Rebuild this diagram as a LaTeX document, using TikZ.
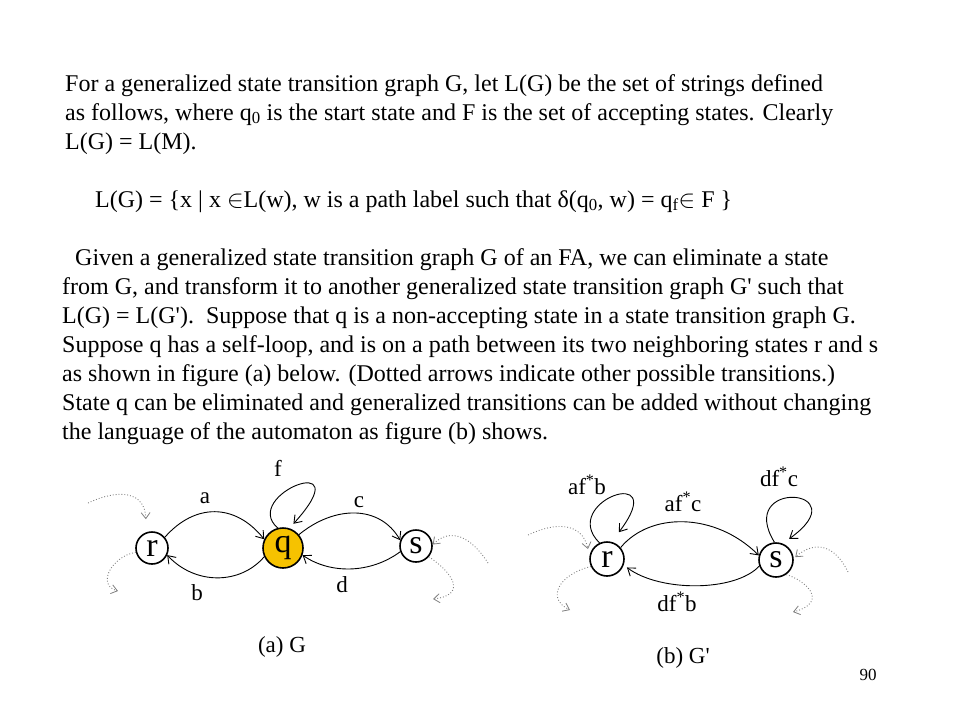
\documentclass[tikz,border=0pt]{standalone}
\usepackage{fontspec}
\setmainfont{Liberation Serif}[Ligatures=TeXOff]
\usetikzlibrary{arrows.meta}
\definecolor{qyellow}{RGB}{246,194,0}
\tikzset{
  txt/.style={anchor=base west, inner sep=0pt, font=\fontsize{24}{28}\selectfont},
  lbl/.style={inner sep=0pt, font=\fontsize{23}{27}\selectfont},
  state/.style={circle, draw=black, line width=1.6pt, inner sep=0pt, font=\fontsize{34}{36}\selectfont},
  edge/.style={line width=0.9pt, -{Straight Barb[length=7pt,width=10pt,line width=0.9pt]}},
  dotedge/.style={gray, line width=0.9pt, dotted, -{Straight Barb[length=6pt,width=9pt,line width=0.8pt]}},
}
\begin{document}
\begin{tikzpicture}[x=1pt,y=-1pt]
\useasboundingbox (0,0) rectangle (960,720);
% text
\node[txt] (t1) at (65,91) {For a generalized state transition graph G, let L(G) be the set of strings defined};
\node[txt] (t2) at (65,120) {as follows, where q\textsubscript{0} is the start state and F is the set of accepting states. Clearly};
\node[txt] (t3) at (65,149) {L(G) = L(M).};
\node[txt] (t4) at (95,207) {L(G) = \{x | x $\in$L(w), w is a path label such that δ(q\textsubscript{0}, w) = q\textsubscript{f}$\in$ F \}};
\node[txt] (t5) at (75,265) {Given a generalized state transition graph G of an FA, we can eliminate a state};
\node[txt] (t6) at (62,294) {from G, and transform it to another generalized state transition graph G' such that};
\node[txt] (t7) at (62,323) {L(G) = L(G').\ \ Suppose that q is a non-accepting state in a state transition graph G.};
\node[txt] (t8) at (62,352) {Suppose q has a self-loop, and is on a path between its two neighboring states r and s};
\node[txt] (t9) at (62,381) {as shown in figure (a) below. (Dotted arrows indicate other possible transitions.)};
\node[txt] (t10) at (62,410) {State q can be eliminated and generalized transitions can be added without changing};
\node[txt] (t11) at (62,439) {the language of the automaton as figure (b) shows.};
% (a)
\node[state, minimum size=32pt] (r) at (152,548) {r};
\node[state, minimum size=40pt, fill=qyellow] (q) at (283,548) {q};
\node[state, minimum size=32pt] (s) at (416,546) {s};
\draw[edge] (r.40) .. controls (195,503) and (235,503) .. (q.155);
\draw[edge] (q.205) .. controls (240,585) and (195,585) .. (r.-25);
\draw[edge] (q.40) .. controls (335,505) and (380,505) .. (s.160);
\draw[edge] (s.200) .. controls (370,574) and (330,574) .. (q.-20);
\draw[edge, shorten >=6pt] (q.105) .. controls (240,495) and (362,448) .. (q.72);
\node[lbl] (la) at (205,498) {a};
\node[lbl] (lb) at (197,593) {b};
\node[lbl] (lc) at (359,502) {c};
\node[lbl] (ld) at (342,585) {d};
\node[lbl] (lf) at (278,468) {f};
\node[lbl] (capa) at (282,647) {(a) G};
\coordinate (rin) at (88,503);
\coordinate (rout) at (118,591);
\coordinate (sin) at (488,563);
\coordinate (sout) at (433,599);
\draw[dotedge, shorten >=13pt] (rin) .. controls (120,488) and (145,492) .. (r.110);
\draw[dotedge] (r.195) .. controls (112,556) and (96,585) .. (rout);
\draw[dotedge] (sin) .. controls (470,535) and (450,528) .. (s.5);
\draw[dotedge] (s.-40) .. controls (452,572) and (468,595) .. (sout);
% (b)
\node[state, minimum size=34pt] (r2) at (607,559) {r};
\node[state, minimum size=34pt] (s2) at (776,560) {s};
\draw[edge] (r2.40) .. controls (650,512) and (715,512) .. (s2.165);
\draw[edge, shorten >=4pt] (s2.200) .. controls (735,592) and (660,592) .. (r2.-20);
\draw[edge, shorten >=12pt] (r2.115) .. controls (558,502) and (672,462) .. (r2.75);
\draw[edge, shorten >=8pt] (s2.95) .. controls (735,478) and (860,488) .. (s2.68);
\node[lbl] (lafb) at (587,485) {af\textsuperscript{*}b};
\node[lbl] (lafc) at (683,502) {af\textsuperscript{*}c};
\node[lbl] (ldfc) at (779,477) {df\textsuperscript{*}c};
\node[lbl] (ldfb) at (677,602) {df\textsuperscript{*}b};
\node[lbl] (capb) at (683,658) {(b) G'};
\coordinate (r2in) at (528,535);
\coordinate (r2out) at (570,610);
\coordinate (s2in) at (848,572);
\coordinate (s2out) at (793,612);
\draw[dotedge, shorten >=7pt] (r2in) .. controls (555,522) and (582,522) .. (r2.170);
\draw[dotedge] (r2.205) .. controls (560,574) and (545,598) .. (r2out);
\draw[dotedge, shorten >=2pt] (s2in) .. controls (835,545) and (815,540) .. (s2.5);
\draw[dotedge] (s2.-55) .. controls (805,580) and (830,602) .. (s2out);
\node[lbl, font=\fontsize{17}{20}\selectfont] (pg) at (868,675) {90};
\end{tikzpicture}
\end{document}
